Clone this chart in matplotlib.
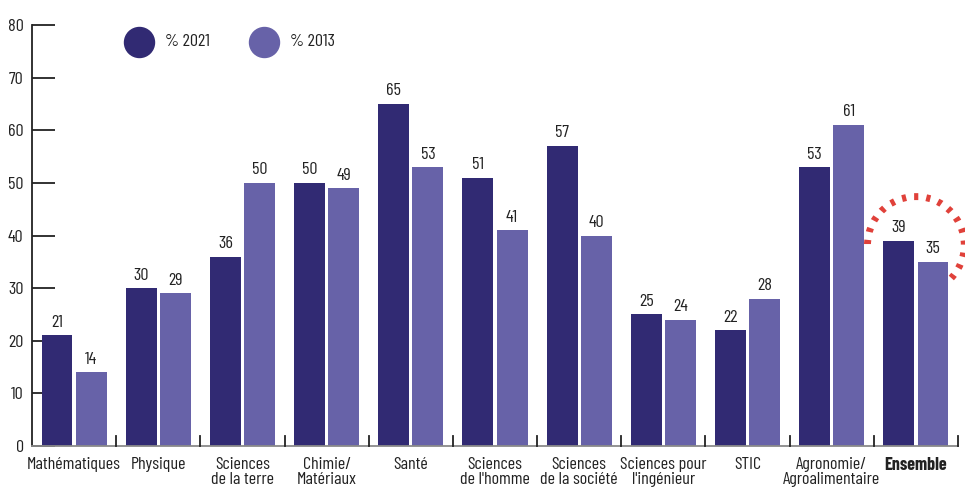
import numpy as np
import matplotlib.pyplot as plt
from matplotlib.patches import Arc
from matplotlib.lines import Line2D

plt.rcParams['font.family'] = ['Barlow Condensed', 'Roboto Condensed', 'DejaVu Sans']
plt.rcParams['lines.scale_dashes'] = False

categories = ["Mathématiques", "Physique", "Sciences\nde la terre", "Chimie/\nMatériaux",
              "Santé", "Sciences\nde l'homme", "Sciences\nde la société",
              "Sciences pour\nl'ingénieur", "STIC", "Agronomie/\nAgroalimentaire", "Ensemble"]
pct_2021 = [21, 30, 36, 50, 65, 51, 57, 25, 22, 53, 39]
pct_2013 = [14, 29, 50, 49, 53, 41, 40, 24, 28, 61, 35]
yticks = [0, 10, 20, 30, 40, 50, 60, 70, 80]

dark = "#312a73"
light = "#6762a8"
red = "#e0413a"
txtc = "#222222"

fig = plt.figure(figsize=(9.65, 4.99), dpi=100)
ax = fig.add_axes([32/965, 53/499, 926/965, 421/499])

x = list(range(len(categories)))
w = 0.368
off = 0.203
b1 = ax.bar([i - off for i in x], pct_2021, width=w, color=dark, zorder=2)
b2 = ax.bar([i + off for i in x], pct_2013, width=w, color=light, zorder=2)

for bars, vals in ((b1, pct_2021), (b2, pct_2013)):
    for r, v in zip(bars, vals):
        ax.annotate(str(v), (r.get_x() + r.get_width()/2, v), xytext=(0, 4),
                    textcoords="offset points", ha="center", va="bottom",
                    fontsize=13, color=txtc)

ax.set_xlim(-0.5, len(categories) - 0.5)
ax.set_ylim(0, 80)

# y axis
ax.set_yticks(yticks)
ax.set_yticklabels([str(t) for t in yticks], fontsize=13, color=txtc)
ax.tick_params(axis="y", direction="in", length=16.5, width=1.3, pad=6, color=txtc)

# x axis: labels at centers, small ticks at group boundaries
ax.set_xticks(x)
ax.set_xticklabels(categories, fontsize=13, color=txtc, linespacing=1.0)
ax.tick_params(axis="x", length=0, pad=8)
ax.get_xticklabels()[-1].set_fontweight("bold")
for b in [i + 0.5 for i in x]:
    ax.plot([b, b], [0, 1.9], color=txtc, lw=1.3, zorder=3, clip_on=False)

for s in ["top", "right"]:
    ax.spines[s].set_visible(False)
ax.spines["left"].set_color(txtc)
ax.spines["left"].set_linewidth(1.3)
ax.spines["bottom"].set_color("#8a8a8a")
ax.spines["bottom"].set_linewidth(1.3)

# dashed circle around Ensemble (angles given on screen, converted to data angles)
aw, ah = 1.15, 18.4
def data_angle(t):
    t = np.radians(t)
    return np.degrees(np.arctan2(ah/2 * np.sin(t), aw/2 * np.cos(t)))
arc = Arc((10, 38.2), aw, ah, theta1=data_angle(-43), theta2=data_angle(181),
          color=red, lw=5, linestyle=(0, (3, 5.8)), zorder=4, clip_on=False)
ax.add_patch(arc)

# legend
for cx, col, lab in ((139, dark, "% 2021"), (264, light, "% 2013")):
    fig.add_artist(Line2D([cx/965], [1 - 42/499], marker="o", markersize=21.6,
                          color=col, linestyle="none", transform=fig.transFigure))
    fig.text((cx + 26)/965, 1 - 42/499, lab, fontsize=13, va="center",
             ha="left", color=txtc)

fig.savefig("out.png", dpi=100)
